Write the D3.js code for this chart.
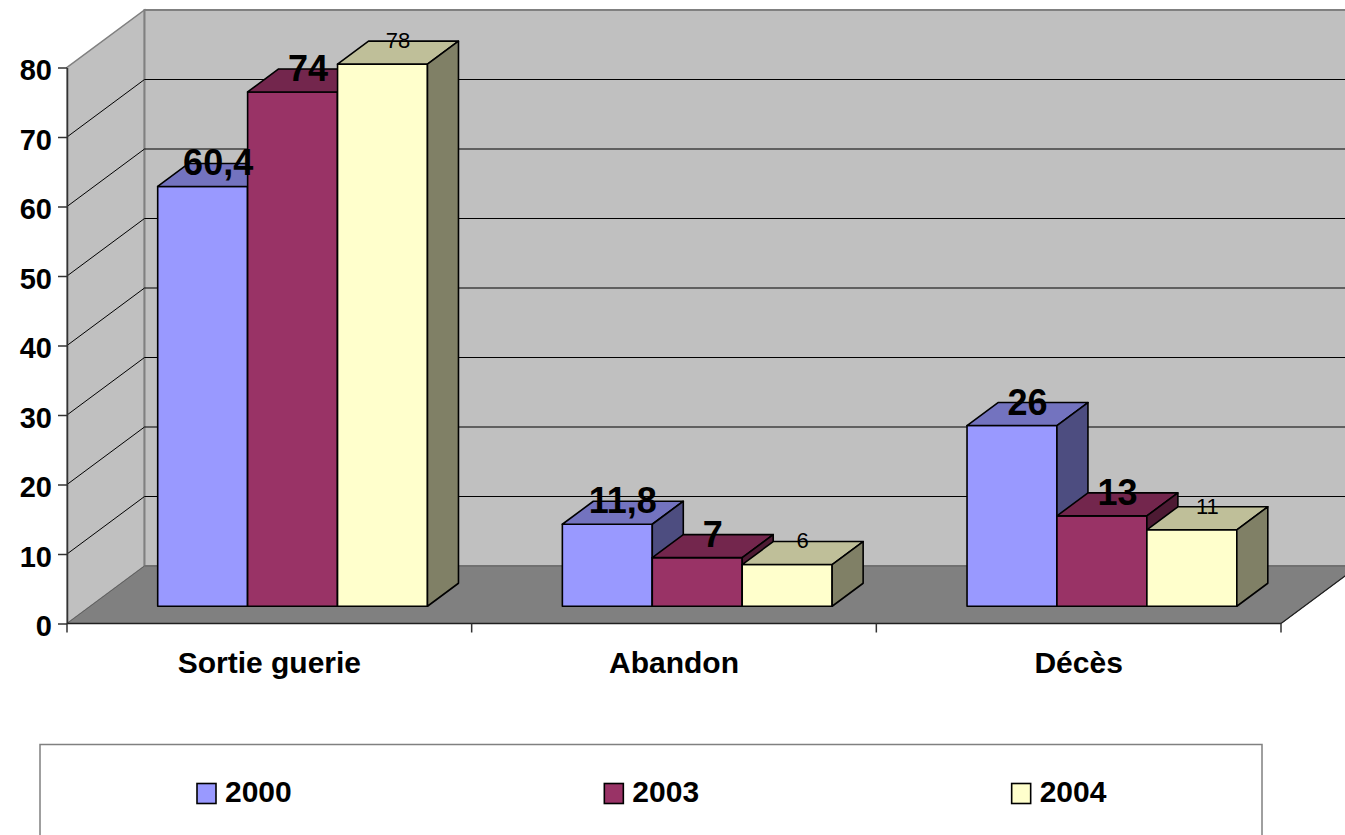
<!DOCTYPE html>
<html>
<head>
<meta charset="utf-8">
<script src="https://cdn.jsdelivr.net/npm/d3@7"></script>
<style>
  html, body { margin: 0; padding: 0; background: #fff; }
  svg { display: block; }
  text { font-family: "Liberation Sans", Arial, sans-serif; }
</style>
</head>
<body>
<svg id="chart" width="1345" height="835"></svg>
<script>
// Issue des patients (%) par année
const categories = ["Sortie guerie", "Abandon", "Décès"];
const series = ["2000", "2003", "2004"];
const values2000 = [60.4, 11.8, 26];
const values2003 = [74, 7, 13];
const values2004 = [78, 6, 11];
const yTicks = [0, 10, 20, 30, 40, 50, 60, 70, 80];

const seriesValues = [values2000, values2003, values2004];
const faceColors = {
  "2000": { front: "#9999FF", top: "#7373BF", side: "#4D4D80" },
  "2003": { front: "#993366", top: "#73264D", side: "#4D1A33" },
  "2004": { front: "#FFFFCC", top: "#BFBF99", side: "#808066" }
};
const labelStyle = {
  "2000": { size: 36, weight: "bold" },
  "2003": { size: 36, weight: "bold" },
  "2004": { size: 22, weight: "normal" }
};

const svg = d3.select("#chart");

// Plot frame: front plane and depth offset of the 3D box
const left = 67, right = 1281;
const DX = 77.5, DY = 57.5;           // full depth of the box
const zFront = 0.3, zBack = 0.7;       // bar depth within the box

const y = d3.scaleLinear().domain([0, 80]).range([623.5, 67.5]);
const x0 = d3.scaleBand().domain(categories).range([left, right]).padding(0);
const x1 = d3.scaleBand().domain(series).range([0, x0.bandwidth()])
  .paddingInner(0).paddingOuter(0.75);

// project a point from (front-plane x, value, depth fraction)
const P = (xf, v, z) => [xf + z * DX, y(v) - z * DY];
const poly = pts => pts.map(p => p.join(",")).join(" ");

const yMax = 80;
const backRight = right + DX;

// Walls
svg.append("polygon")
  .attr("points", poly([P(left, 0, 0), P(left, yMax, 0), P(left, yMax, 1), P(left, 0, 1)]))
  .attr("fill", "#C0C0C0").attr("stroke", "#808080").attr("stroke-width", 1.5);
svg.append("polygon")
  .attr("points", poly([P(left, 0, 1), P(left, yMax, 1), P(right, yMax, 1), P(right, 0, 1)]))
  .attr("fill", "#C0C0C0").attr("stroke", "#808080").attr("stroke-width", 2);

// Gridlines on side wall and back wall
const grid = svg.append("g").attr("stroke", "#000").attr("stroke-width", 1).attr("fill", "none");
yTicks.filter(v => v > 0 && v < yMax).forEach(v => {
  grid.append("polyline")
    .attr("points", poly([P(left, v, 0), P(left, v, 1), P(right, v, 1)]));
});

// Floor
svg.append("polygon")
  .attr("points", poly([P(left, 0, 0), P(right, 0, 0), P(right, 0, 1), P(left, 0, 1)]))
  .attr("fill", "#808080").attr("stroke", "#606060").attr("stroke-width", 1);
svg.append("line")
  .attr("x1", P(right, 0, 0)[0]).attr("y1", P(right, 0, 0)[1])
  .attr("x2", P(right, 0, 1)[0]).attr("y2", P(right, 0, 1)[1])
  .attr("stroke", "#202020").attr("stroke-width", 1.2);

// Value axis
const yAxis = svg.append("g")
  .attr("transform", `translate(${left},0)`)
  .call(d3.axisLeft(y).tickValues(yTicks).tickSize(9).tickPadding(6).tickSizeOuter(0));
yAxis.select(".domain").attr("stroke", "#333").attr("stroke-width", 1.5);
yAxis.selectAll(".tick line").attr("stroke", "#333").attr("stroke-width", 1.5);
yAxis.selectAll(".tick text")
  .attr("font-size", 29).attr("font-weight", "bold").attr("fill", "#000")
  .attr("dy", "0.42em")
  .style("font-family", '"Liberation Sans", Arial, sans-serif');

// Category axis
const xAxisG = svg.append("g");
xAxisG.append("line")
  .attr("x1", left).attr("x2", right).attr("y1", y(0)).attr("y2", y(0))
  .attr("stroke", "#202020").attr("stroke-width", 1.5);
const bounds = categories.map(c => x0(c)).concat([x0(categories[categories.length - 1]) + x0.bandwidth()]);
xAxisG.selectAll(".ctick").data(bounds).join("line")
  .attr("x1", d => d).attr("x2", d => d)
  .attr("y1", y(0)).attr("y2", y(0) + 9)
  .attr("stroke", "#333").attr("stroke-width", 1.5);
xAxisG.selectAll(".clabel").data(categories).join("text")
  .attr("x", d => x0(d) + x0.bandwidth() / 2)
  .attr("y", 673)
  .attr("text-anchor", "middle")
  .attr("font-size", 30).attr("font-weight", "bold")
  .text(d => d);

// Bars
const bars = [];
categories.forEach((c, ci) => {
  series.forEach((s, si) => {
    bars.push({ cat: c, series: s, value: seriesValues[si][ci] });
  });
});

const barG = svg.append("g")
  .attr("stroke", "#000").attr("stroke-width", 1.6).attr("stroke-linejoin", "round");
bars.forEach(b => {
  const xl = x0(b.cat) + x1(b.series);
  const xr = xl + x1.bandwidth();
  const col = faceColors[b.series];
  const g = barG.append("g");
  g.append("polygon")
    .attr("points", poly([P(xl, 0, zFront), P(xr, 0, zFront), P(xr, b.value, zFront), P(xl, b.value, zFront)]))
    .attr("fill", col.front);
  g.append("polygon")
    .attr("points", poly([P(xl, b.value, zFront), P(xr, b.value, zFront), P(xr, b.value, zBack), P(xl, b.value, zBack)]))
    .attr("fill", col.top);
  g.append("polygon")
    .attr("points", poly([P(xr, 0, zFront), P(xr, b.value, zFront), P(xr, b.value, zBack), P(xr, 0, zBack)]))
    .attr("fill", col.side);
});

// Value labels (comma decimal separator)
const fr = d3.formatLocale({ decimal: ",", thousands: " ", grouping: [3], currency: ["", " €"] });
const fmt = fr.format("~g");
svg.append("g").selectAll("text").data(bars).join("text")
  .attr("x", d => P(x0(d.cat) + x1(d.series) + x1.bandwidth() / 2, d.value, (zFront + zBack) / 2)[0])
  .attr("y", d => P(0, d.value, zBack)[1] - 1)
  .attr("dy", "0.36em")
  .attr("text-anchor", "middle")
  .attr("font-size", d => labelStyle[d.series].size)
  .attr("font-weight", d => labelStyle[d.series].weight)
  .attr("fill", "#000")
  .text(d => fmt(d.value));

// Legend
const legendBox = { x: 40, y: 744.5, w: 1222, h: 110 };
svg.append("rect")
  .attr("x", legendBox.x).attr("y", legendBox.y)
  .attr("width", legendBox.w).attr("height", legendBox.h)
  .attr("fill", "#fff").attr("stroke", "#808080").attr("stroke-width", 1.5);
const lx = d3.scaleBand().domain(series).range([legendBox.x, legendBox.x + legendBox.w]);
const legendItems = svg.append("g").selectAll("g").data(series).join("g")
  .attr("transform", d => `translate(${lx(d) + 157},783.5)`);
legendItems.append("rect")
  .attr("width", 19).attr("height", 20)
  .attr("fill", d => faceColors[d].front)
  .attr("stroke", "#000").attr("stroke-width", 1.6);
legendItems.append("text")
  .attr("x", 28).attr("y", 18.5)
  .attr("font-size", 30).attr("font-weight", "bold")
  .text(d => d);
</script>
</body>
</html>
